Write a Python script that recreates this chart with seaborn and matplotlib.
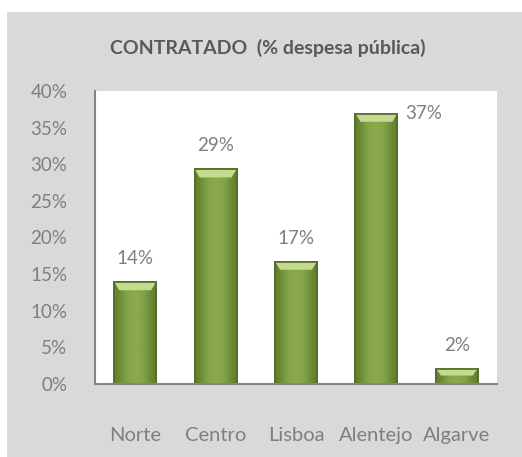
import seaborn as sns
import pandas as pd
import numpy as np
import matplotlib.pyplot as plt
from matplotlib.patches import Rectangle, Polygon
from matplotlib.colors import LinearSegmentedColormap
from matplotlib.ticker import PercentFormatter


regions = ['Norte', 'Centro', 'Lisboa', 'Alentejo', 'Algarve']
contratado = [13.9, 29.3, 16.7, 36.9, 2.1]
value_labels = ['14%', '29%', '17%', '37%', '2%']
y_ticks = [0, 5, 10, 15, 20, 25, 30, 35, 40]

df = pd.DataFrame({'regiao': regions, 'pct': contratado})

sns.set_style('white')
plt.rcParams['font.family'] = ['Lato', 'DejaVu Sans']

fig = plt.figure(figsize=(5.22, 4.57), dpi=100)
fig.patches.append(Rectangle((7 / 522, 0), 1, 445 / 457, transform=fig.transFigure,
                             facecolor='#D9D9D9', edgecolor='none', zorder=-1))
ax = fig.add_axes([95 / 522, 1 - 384 / 457, 402 / 522, 293 / 457])
ax.set_facecolor('white')

sns.barplot(data=df, x='regiao', y='pct', color='#7E9C45', width=0.52,
            edgecolor='#4F6228', linewidth=1.2, saturation=1, ax=ax)

# cylinder-ish shading and light top cap on each bar
grad = np.array([[0.0, 0.6, 0.9, 1.0, 0.9, 0.6, 0.0]])
cmap = LinearSegmentedColormap.from_list('olive', ['#62802E', '#8CAA4E'])
for p in ax.patches:
    x0, w, h = p.get_x(), p.get_width(), p.get_height()
    im = ax.imshow(grad, cmap=cmap, aspect='auto', extent=(x0, x0 + w, 0, h),
                   zorder=p.get_zorder() + 0.1, interpolation='bicubic')
    im.set_clip_path(p)
    cap = min(1.1, h * 0.45)
    inset = w * 0.12
    ax.add_patch(Polygon([(x0, h), (x0 + w, h), (x0 + w - inset, h - cap), (x0 + inset, h - cap)],
                         closed=True, facecolor='#C3DB8E', edgecolor='none',
                         zorder=p.get_zorder() + 0.2))
    ax.add_patch(Rectangle((x0, 0), w, h, facecolor='none', edgecolor='#526A2A',
                           linewidth=1.2, zorder=p.get_zorder() + 0.3))

for i, p in enumerate(ax.patches[:len(regions)]):
    cx = p.get_x() + p.get_width() / 2
    h = p.get_height()
    if h > 33:
        ax.annotate(value_labels[i], (p.get_x() + p.get_width(), h), xytext=(6, 0),
                    textcoords='offset points', ha='left', va='center',
                    fontsize=13.5, color='#7F7F7F')
    else:
        ax.annotate(value_labels[i], (cx, h), xytext=(0, 17), textcoords='offset points',
                    ha='center', va='center', fontsize=13.5, color='#7F7F7F')

ax.set_xlim(-0.5, len(regions) - 0.5)
ax.set_ylim(0, 40)
ax.set_yticks(y_ticks)
ax.yaxis.set_major_formatter(PercentFormatter(decimals=0))
ax.set_xlabel('')
ax.set_ylabel('')

sns.despine(ax=ax)
for s in ['left', 'bottom']:
    ax.spines[s].set_color('#868686')
    ax.spines[s].set_linewidth(1.5)

ax.set_xticks(np.arange(-0.5, len(regions)), minor=True)
ax.tick_params(axis='x', which='minor', length=6, width=1.5, color='#868686', direction='out')
ax.tick_params(axis='x', which='major', length=0, pad=31, labelsize=14.5, labelcolor='#7F7F7F')
ax.tick_params(axis='y', length=5, width=1.5, color='#868686', direction='out',
               pad=15, labelsize=13.5, labelcolor='#7F7F7F')

fig.text(268 / 522, 1 - 48 / 457, 'CONTRATADO  (% despesa pública)', ha='center', va='center',
         fontsize=14, fontweight='bold', color='#595959')

fig.savefig('out.png', dpi=100)
